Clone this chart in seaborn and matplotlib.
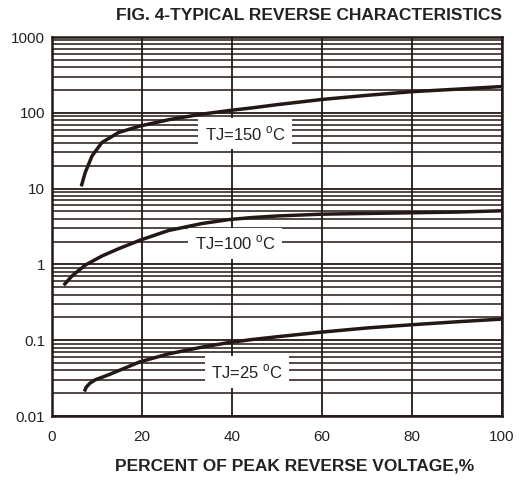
import numpy as np
import pandas as pd
import matplotlib
matplotlib.use('Agg')
import matplotlib.pyplot as plt
from matplotlib.ticker import LogLocator, FixedLocator, NullFormatter
import seaborn as sns

# values
v150 = [6.5, 7.4, 8.9, 11.1, 14.8, 19.6, 25.9, 33.3, 39.3, 44.4, 50, 60, 70, 80, 90, 100]
i150 = [10.7, 16.4, 27, 40.6, 55, 67, 81, 96, 107, 116, 128, 150, 170, 190, 205, 222]

v100 = [2.6, 4.4, 7.4, 11.1, 14.8, 19.6, 25.9, 33.3, 39.3, 44.4, 50, 60, 70, 80, 90, 100]
i100 = [0.53, 0.70, 0.98, 1.29, 1.61, 2.09, 2.8, 3.46, 3.9, 4.15, 4.35, 4.6, 4.7, 4.8, 4.9, 5.1]

v25 = [7.2, 7.6, 8.4, 9.6, 12.6, 19.6, 25.9, 33.3, 39.3, 44.4, 50, 60, 70, 80, 90, 100]
i25 = [0.021, 0.024, 0.027, 0.030, 0.035, 0.052, 0.066, 0.081, 0.093, 0.102, 0.111,
       0.128, 0.145, 0.16, 0.175, 0.19]

labels = ['TJ=150 $^{\\rm o}$C', 'TJ=100 $^{\\rm o}$C', 'TJ=25 $^{\\rm o}$C']
label_x = [42.9, 40.7, 43.3]
label_y = [53, 1.9, 0.038]

x_ticks = [0, 20, 40, 60, 80, 100]
y_ticks = [0.01, 0.1, 1, 10, 100, 1000]
y_ticklabels = ['0.01', '0.1', '1', '10', '100', '1000']

df = pd.concat([
    pd.DataFrame({'v': v150, 'i': i150, 'tj': '150'}),
    pd.DataFrame({'v': v100, 'i': i100, 'tj': '100'}),
    pd.DataFrame({'v': v25, 'i': i25, 'tj': '25'}),
])

sns.set_style('white')
plt.rcParams['font.family'] = ['Liberation Sans', 'DejaVu Sans']
plt.rcParams['mathtext.fontset'] = 'custom'
plt.rcParams['mathtext.rm'] = 'Liberation Sans'

fig = plt.figure(figsize=(5.28, 4.83), dpi=100)
ax = fig.add_axes([52 / 528, 1 - 416 / 483, 450 / 528, 379 / 483])

ink = '#231815'
sns.lineplot(data=df, x='v', y='i', hue='tj', units='tj', estimator=None,
             palette=[ink, ink, ink], linewidth=2.5, legend=False, ax=ax,
             sort=False)
for ln in ax.lines:
    ln.set_solid_capstyle('butt')
    ln.set_solid_joinstyle('round')

ax.set_yscale('log')
ax.set_xlim(0, 100)
ax.set_ylim(0.01, 1000)

ax.xaxis.set_major_locator(FixedLocator(x_ticks))
ax.yaxis.set_major_locator(FixedLocator(y_ticks))
ax.set_yticklabels(y_ticklabels)
ax.yaxis.set_minor_locator(LogLocator(base=10, subs=np.arange(2, 10)))
ax.yaxis.set_minor_formatter(NullFormatter())

ax.grid(True, which='major', axis='both', color=ink, linewidth=1.3)
ax.grid(True, which='minor', axis='y', color=ink, linewidth=1.1)
ax.tick_params(which='both', length=0, labelsize=11, colors='#222222', pad=5)
ax.tick_params(axis='x', pad=10)
for s in ax.spines.values():
    s.set_color(ink)
    s.set_linewidth(1.8)

for t, x, y in zip(labels, label_x, label_y):
    ax.text(x, y, t, ha='center', va='center', fontsize=12, color='#222222',
            bbox=dict(facecolor='white', edgecolor='none', pad=4.5), zorder=5)

ax.set_xlabel('')
ax.set_ylabel('')
fig.text(295 / 528, 1 - 466 / 483, 'PERCENT OF PEAK REVERSE VOLTAGE,%',
         ha='center', va='center', fontsize=12.5, fontweight='bold', color='#222222')
fig.text(502 / 528, 1 - 16 / 483, 'FIG. 4-TYPICAL REVERSE CHARACTERISTICS',
         ha='right', va='center', fontsize=12.5, fontweight='bold', color='#222222')

fig.savefig('out.png', dpi=100)
